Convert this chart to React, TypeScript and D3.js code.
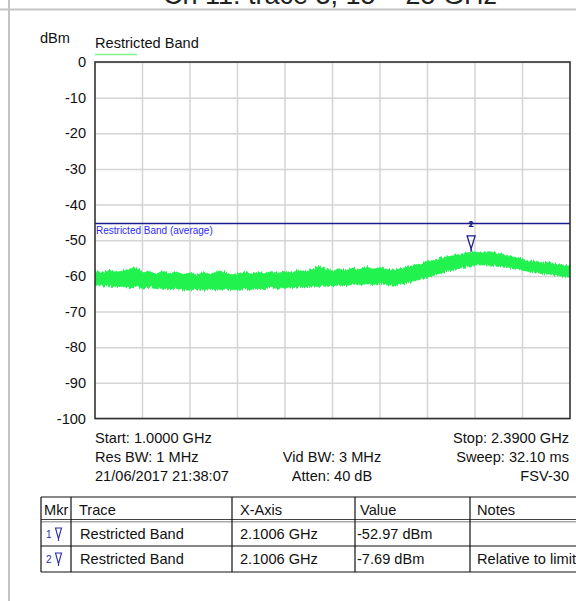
import React, { useEffect, useRef } from 'react';
import * as d3 from 'd3';

const W = 576;
const H = 601;
const plot = { left: 95, right: 570, top: 62, bottom: 418.5 };

// sweep 1.0 .. 2.39 GHz, level in dBm
const startGHz = 1.0;
const stopGHz = 2.39;
const yTicks = [0, -10, -20, -30, -40, -50, -60, -70, -80, -90, -100];

// trace envelope, 71 samples across the sweep
const traceUpper = [
  -58.6, -59.2, -58.4, -59.0, -58.7, -58.1, -57.6, -59.1, -58.8, -59.5,
  -58.7, -59.3, -58.9, -59.6, -59.2, -59.8, -59.0, -59.6, -58.6, -58.8,
  -59.7, -59.4, -58.9, -59.5, -59.0, -59.4, -58.8, -59.3, -58.7, -59.1,
  -58.4, -58.9, -58.2, -57.3, -58.1, -58.6, -58.0, -58.5, -57.8, -58.3,
  -57.6, -58.1, -57.7, -58.2, -58.4, -58.0, -57.6, -57.0, -56.6, -56.0,
  -55.6, -55.0, -54.6, -54.3, -53.8, -53.5, -53.3, -53.6, -53.2, -53.5,
  -53.9, -54.4, -54.9, -55.2, -55.8, -55.9, -56.4, -56.2, -56.8, -57.0,
  -57.3,
];
const traceLower = [
  -62.6, -62.9, -62.7, -63.1, -62.9, -63.3, -63.0, -63.4, -63.2, -63.6,
  -63.4, -63.8, -63.5, -63.9, -64.0, -63.7, -64.1, -63.8, -64.0, -63.7,
  -63.9, -63.8, -63.6, -63.9, -63.5, -63.6, -63.2, -63.5, -63.2, -63.4,
  -63.0, -63.1, -62.8, -63.0, -62.6, -62.8, -62.5, -62.7, -62.3, -62.5,
  -62.2, -62.4, -62.1, -62.5, -62.6, -62.4, -62.0, -61.4, -60.9, -60.3,
  -59.8, -59.2, -58.7, -58.2, -57.7, -57.3, -57.0, -56.9, -57.0, -57.0,
  -57.2, -57.6, -58.1, -58.4, -58.8, -59.0, -59.4, -59.5, -59.9, -60.1,
  -60.4,
];

const limitLevel = -45.28;
const limitLabel = 'Restricted Band (average)';
const markerFreq = 2.1006;
const markerLevel = -52.97;

const infoLeft = ['Start: 1.0000 GHz', 'Res BW: 1 MHz', '21/06/2017 21:38:07'];
const infoMid = ['', 'Vid BW: 3 MHz', 'Atten: 40 dB'];
const infoRight = ['Stop: 2.3900 GHz', 'Sweep: 32.10 ms', 'FSV-30'];

const tableHeader = ['Mkr', 'Trace', 'X-Axis', 'Value', 'Notes'];
const markerIds = [1, 2];
const markerTrace = ['Restricted Band', 'Restricted Band'];
const markerX = ['2.1006 GHz', '2.1006 GHz'];
const markerValue = ['-52.97 dBm', '-7.69 dBm'];
const markerNotes = ['', 'Relative to limit'];

const font = '"Liberation Sans", Arial, sans-serif';
const fs = 14.6;
const navy = '#1c1c8c';

export default function App() {
  const ref = useRef<SVGSVGElement>(null);

  useEffect(() => {
    if (!ref.current) return;
    const svg = d3.select(ref.current);
    svg.selectAll('*').remove();

    const x = d3.scaleLinear().domain([startGHz, stopGHz]).range([plot.left, plot.right]);
    const y = d3.scaleLinear().domain([-100, 0]).range([plot.bottom, plot.top]);
    const samples = traceUpper.map((_, i) => startGHz + (i * (stopGHz - startGHz)) / (traceUpper.length - 1));

    // roughen the trace edges a little, the analyser trace is a noise band
    const filter = svg.append('defs').append('filter').attr('id', 'grain')
      .attr('x', '-2%').attr('y', '-60%').attr('width', '104%').attr('height', '220%');
    filter.append('feTurbulence').attr('type', 'fractalNoise')
      .attr('baseFrequency', '0.9 0.04').attr('numOctaves', 2).attr('seed', 3).attr('result', 'n');
    filter.append('feDisplacementMap').attr('in', 'SourceGraphic').attr('in2', 'n')
      .attr('scale', 5).attr('xChannelSelector', 'B').attr('yChannelSelector', 'R');

    // page frame
    svg.append('line').attr('x1', 0).attr('x2', W).attr('y1', 9.5).attr('y2', 9.5)
      .attr('stroke', '#c4c4c4').attr('stroke-width', 2);
    svg.append('line').attr('x1', 9).attr('x2', 9).attr('y1', 0).attr('y2', H)
      .attr('stroke', '#c4c4c4').attr('stroke-width', 2);

    svg.append('text').attr('x', 330).attr('y', 4).attr('text-anchor', 'middle')
      .attr('font-family', font).attr('font-size', 27).attr('fill', '#222')
      .text('Ch 11: trace 3, 15 – 25 GHz');

    // grid
    const g = svg.append('g');
    const xDivs = d3.range(11).map((i) => startGHz + (i * (stopGHz - startGHz)) / 10);
    g.selectAll('line.vg').data(xDivs.slice(1, -1)).enter().append('line')
      .attr('x1', (d) => x(d)).attr('x2', (d) => x(d))
      .attr('y1', plot.top).attr('y2', plot.bottom)
      .attr('stroke', '#d4d4d4').attr('stroke-width', 1.5);

    const yAxis = g.append('g').attr('transform', `translate(${plot.left},0)`)
      .call(
        d3.axisLeft(y).tickValues(yTicks).tickFormat((d) => String(d))
          .tickSizeInner(-(plot.right - plot.left)).tickSizeOuter(0).tickPadding(9)
      );
    yAxis.select('.domain').remove();
    yAxis.selectAll('.tick line').attr('stroke', '#d4d4d4').attr('stroke-width', 1.5);
    yAxis.selectAll('.tick text').attr('font-family', font).attr('font-size', fs).attr('fill', '#111');

    // trace
    const area = d3.area<number>()
      .x((_, i) => x(samples[i]))
      .y0((_, i) => y(traceLower[i]))
      .y1((d) => y(d));
    svg.append('g').attr('clip-path', 'url(#plotclip)')
      .append('path').datum(traceUpper).attr('d', area)
      .attr('fill', '#20f24e').attr('stroke', '#20f24e').attr('stroke-width', 0.8)
      .attr('filter', 'url(#grain)');
    svg.select('defs').append('clipPath').attr('id', 'plotclip')
      .append('rect').attr('x', plot.left).attr('y', plot.top)
      .attr('width', plot.right - plot.left).attr('height', plot.bottom - plot.top);

    // limit line
    svg.append('line').attr('x1', plot.left).attr('x2', plot.right)
      .attr('y1', y(limitLevel)).attr('y2', y(limitLevel))
      .attr('stroke', navy).attr('stroke-width', 1.5);
    svg.append('text').attr('x', plot.left + 1).attr('y', y(limitLevel) + 11)
      .attr('font-family', font).attr('font-size', 10).attr('fill', '#2a2aff')
      .text(limitLabel);

    // marker
    const mx = x(markerFreq);
    const my = y(markerLevel);
    svg.append('path')
      .attr('d', `M${mx - 4},${my - 15}L${mx + 4},${my - 15}L${mx},${my - 2}Z`)
      .attr('fill', 'none').attr('stroke', navy).attr('stroke-width', 1.3);
    svg.append('line').attr('x1', mx).attr('x2', mx).attr('y1', my - 2).attr('y2', my + 1)
      .attr('stroke', navy).attr('stroke-width', 1.3);
    markerIds.forEach((id) => {
      svg.append('text').attr('x', mx).attr('y', my - 24).attr('text-anchor', 'middle')
        .attr('font-family', font).attr('font-size', 9).attr('font-weight', 'bold')
        .attr('fill', navy).text(id);
    });

    // frame
    svg.append('rect').attr('x', plot.left).attr('y', plot.top)
      .attr('width', plot.right - plot.left).attr('height', plot.bottom - plot.top)
      .attr('fill', 'none').attr('stroke', '#333').attr('stroke-width', 1.6);

    // unit + legend
    svg.append('text').attr('x', 40).attr('y', 43).attr('font-family', font)
      .attr('font-size', fs).attr('fill', '#111').text('dBm');
    svg.append('text').attr('x', plot.left).attr('y', 48).attr('font-family', font)
      .attr('font-size', fs).attr('fill', '#111').text('Restricted Band');
    svg.append('line').attr('x1', plot.left).attr('x2', 137).attr('y1', 54.5).attr('y2', 54.5)
      .attr('stroke', '#80f08c').attr('stroke-width', 1.6);

    // sweep info
    const infoY = [443, 462, 481];
    const info = svg.append('g').attr('font-family', font).attr('font-size', fs).attr('fill', '#111');
    infoLeft.forEach((t, i) => info.append('text').attr('x', plot.left).attr('y', infoY[i]).text(t));
    infoMid.forEach((t, i) => info.append('text').attr('x', 332).attr('y', infoY[i]).attr('text-anchor', 'middle').text(t));
    infoRight.forEach((t, i) => info.append('text').attr('x', plot.right - 1).attr('y', infoY[i]).attr('text-anchor', 'end').text(t));

    // marker table
    const cols = [41, 71, 232, 355, 470, 600];
    const rows = [497, 521, 546, 572];
    const tbl = svg.append('g');
    tbl.append('line').attr('x1', cols[0]).attr('x2', W).attr('y1', rows[0]).attr('y2', rows[0])
      .attr('stroke', '#111').attr('stroke-width', 1.2);
    tbl.append('line').attr('x1', cols[0]).attr('x2', W).attr('y1', rows[1] - 1.5).attr('y2', rows[1] - 1.5)
      .attr('stroke', '#444').attr('stroke-width', 1.2);
    tbl.append('line').attr('x1', cols[0]).attr('x2', W).attr('y1', rows[1] + 0.8).attr('y2', rows[1] + 0.8)
      .attr('stroke', '#aaa').attr('stroke-width', 1.4);
    [rows[2], rows[3]].forEach((ry) => tbl.append('line').attr('x1', cols[0]).attr('x2', W)
      .attr('y1', ry).attr('y2', ry).attr('stroke', '#111').attr('stroke-width', 1.2));
    cols.slice(0, 5).forEach((cx) => tbl.append('line').attr('x1', cx).attr('x2', cx)
      .attr('y1', rows[0]).attr('y2', rows[3]).attr('stroke', '#111').attr('stroke-width', 1.2));

    const tt = tbl.append('g').attr('font-family', font).attr('font-size', fs).attr('fill', '#111');
    const textX = [44, 79, 240, 360, 477];
    tableHeader.forEach((h, i) => tt.append('text').attr('x', textX[i]).attr('y', 514.5).text(h));
    const rowMid = [534, 559];
    markerIds.forEach((id, r) => {
      const cy = rowMid[r];
      tbl.append('text').attr('x', 46).attr('y', cy + 4).attr('font-family', font)
        .attr('font-size', 10).attr('fill', '#2a2ab0').text(id);
      tbl.append('path')
        .attr('d', `M${55.5},${cy - 6}L${61.5},${cy - 6}L${58.5},${cy + 5}Z`)
        .attr('fill', 'none').attr('stroke', '#2a2ab0').attr('stroke-width', 1.1);
      tbl.append('line').attr('x1', 58.5).attr('x2', 58.5).attr('y1', cy + 5).attr('y2', cy + 7)
        .attr('stroke', '#2a2ab0').attr('stroke-width', 1.1);
      tt.append('text').attr('x', 80).attr('y', cy + 5).text(markerTrace[r]);
      tt.append('text').attr('x', 240).attr('y', cy + 5).text(markerX[r]);
      tt.append('text').attr('x', 357).attr('y', cy + 5).text(markerValue[r]);
      tt.append('text').attr('x', 477).attr('y', cy + 5).text(markerNotes[r]);
    });
  }, []);

  return (
    <svg
      ref={ref}
      width={W}
      height={H}
      style={{ position: 'absolute', left: 0, top: 0, background: '#fff' }}
    />
  );
}
